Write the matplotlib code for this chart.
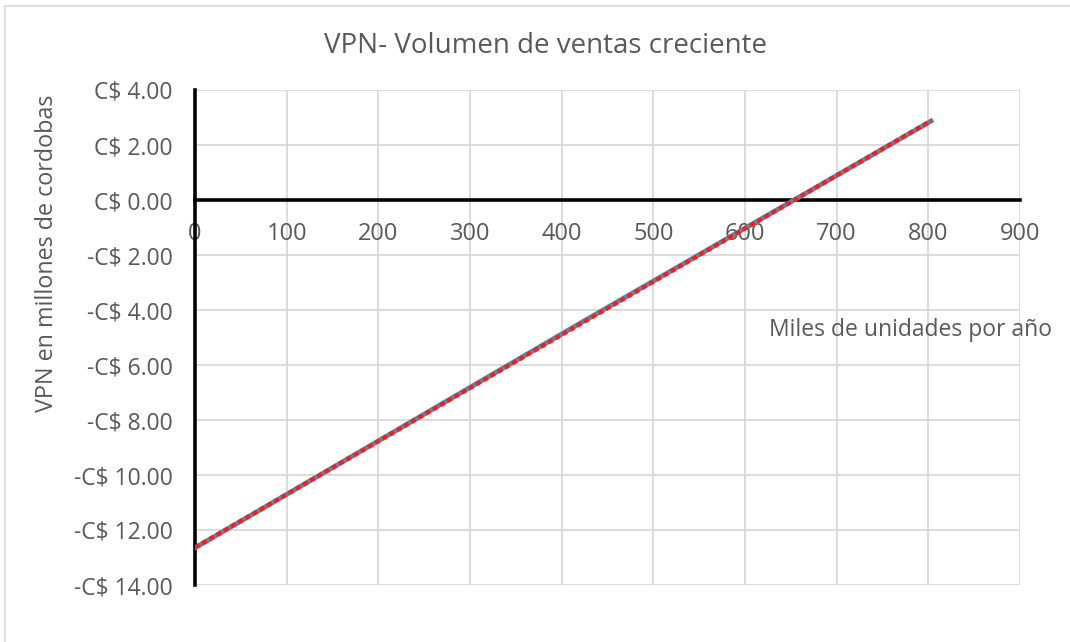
import numpy as np
import matplotlib.pyplot as plt
from matplotlib.patches import Rectangle

# VPN (millones de C$) según volumen de ventas (miles de unidades)
unidades = [0, 415, 803]
vpn = [-12.65, -4.58, 2.87]

x_ticks = [0, 100, 200, 300, 400, 500, 600, 700, 800, 900]
y_ticks = [4, 2, 0, -2, -4, -6, -8, -10, -12, -14]

def money(v):
    return ('-' if v < 0 else '') + 'C$ %.2f' % abs(v)

plt.rcParams['font.family'] = ['Open Sans', 'DejaVu Sans']
gris = '#595959'

fig = plt.figure(figsize=(10.7, 6.42), dpi=100)
fig.patches.append(Rectangle((5 / 1070, -0.1), 1.2, (642 - 6) / 642 + 0.1,
                             transform=fig.transFigure, fill=False,
                             edgecolor='#d9d9d9', linewidth=1.2))

ax = fig.add_axes([195 / 1070, 57 / 642, 825 / 1070, 495 / 642])
ax.set_xlim(0, 900)
ax.set_ylim(-14, 4)
ax.set_xticks(x_ticks)
ax.set_yticks(y_ticks)
ax.set_yticklabels([money(v) for v in y_ticks])
ax.grid(True, color='#d9d9d9', linewidth=1.3)
ax.set_axisbelow(True)

for s in ['top', 'right']:
    ax.spines[s].set_visible(False)
ax.spines['bottom'].set_position(('data', 0))
ax.spines['bottom'].set_linewidth(2.6)
ax.spines['left'].set_linewidth(2.6)
ax.spines['bottom'].set_zorder(3)
ax.spines['left'].set_zorder(3)
ax.tick_params(axis='x', length=0, pad=16, labelsize=17, labelcolor=gris)
ax.tick_params(axis='y', length=0, pad=16, labelsize=16.5, labelcolor=gris)

# serie y línea de tendencia lineal
ax.plot(unidades, vpn, color='#6a7fa0', linewidth=3.5, zorder=4)
m, b = np.polyfit(unidades, vpn, 1)
xs = np.array([unidades[0], unidades[-1]])
ax.plot(xs, m * xs + b, color='#ff1a1a', linewidth=3, linestyle=(0, (1.2, 0.8)), zorder=5)

ax.text(626, -4.73, 'Miles de unidades por año', fontsize=16.5, color=gris,
        va='center', ha='left')

fig.text(545 / 1070, (642 - 46) / 642, 'VPN- Volumen de ventas creciente',
         fontsize=20, color=gris, ha='center', va='center')
fig.text(47 / 1070, (642 - 253) / 642, 'VPN en millones de cordobas',
         fontsize=16.8, color=gris, rotation=90, ha='center', va='center')

fig.savefig('out.png', dpi=100)
